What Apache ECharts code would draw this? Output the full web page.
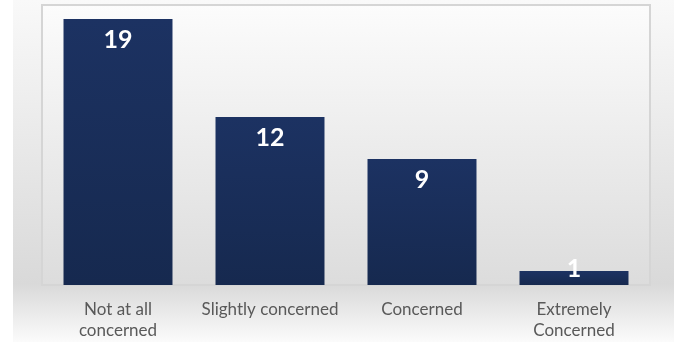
<!DOCTYPE html>
<html>
<head>
<meta charset="utf-8">
<script src="https://cdn.jsdelivr.net/npm/echarts@6/dist/echarts.min.js"></script>
<style>
  html, body { margin: 0; padding: 0; background: #ffffff; }
  #chart { width: 674px; height: 342px; }
</style>
</head>
<body>
<div id="chart"></div>
<script>
// Survey responses: level of concern
const categories = ['Not at all\nconcerned', 'Slightly concerned', 'Concerned', 'Extremely\nConcerned'];
const counts = [19, 12, 9, 1];
const yMin = 0;
const yMax = 20;

const chart = echarts.init(document.getElementById('chart'), null, { renderer: 'canvas' });

const barColor = new echarts.graphic.LinearGradient(0, 0, 0, 1, [
  { offset: 0, color: '#1c3262' },
  { offset: 1, color: '#16294f' }
]);

const seriesData = counts.map(function (v) {
  const item = { value: v };
  if (v < 2) {
    // short bars: the value label straddles the bar top
    item.label = { position: 'top', distance: -10 };
  }
  return item;
});

chart.setOption({
  animation: false,
  graphic: [
    {
      type: 'rect',
      z: -10,
      silent: true,
      shape: { x: 13, y: 0, width: 661, height: 342 },
      style: {
        fill: new echarts.graphic.LinearGradient(0, 0, 0, 1, [
          { offset: 0, color: '#f9f9f9' },
          { offset: 0.83, color: '#d9d9d9' },
          { offset: 1, color: '#fbfbfb' }
        ])
      }
    }
  ],
  grid: {
    left: 42,
    right: 24,
    top: 5,
    bottom: 57,
    show: true,
    borderColor: '#d5d5d5',
    borderWidth: 2,
    backgroundColor: new echarts.graphic.LinearGradient(0, 0, 0, 1, [
      { offset: 0, color: '#fcfcfc' },
      { offset: 1, color: '#dcdcdc' }
    ])
  },
  xAxis: {
    type: 'category',
    data: categories,
    axisLine: { show: false },
    axisTick: { show: false },
    splitLine: { show: false },
    axisLabel: {
      color: '#595959',
      fontFamily: 'Lato',
      fontSize: 17,
      lineHeight: 21,
      margin: 14,
      interval: 0
    }
  },
  yAxis: {
    type: 'value',
    min: yMin,
    max: yMax,
    show: false,
    splitLine: { show: false }
  },
  series: [
    {
      type: 'bar',
      data: seriesData,
      barWidth: '71.7%',
      itemStyle: { color: barColor },
      label: {
        show: true,
        position: 'insideTop',
        distance: 9,
        color: '#ffffff',
        fontFamily: 'Lato',
        fontWeight: 'bold',
        fontSize: 25,
        lineHeight: 24
      }
    }
  ]
});
</script>
</body>
</html>
